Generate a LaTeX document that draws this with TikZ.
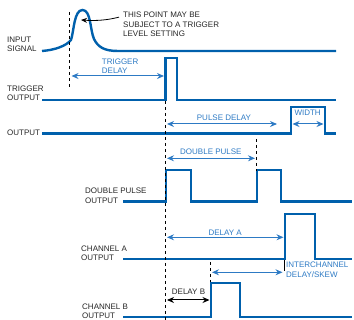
\documentclass[tikz,border=0pt]{standalone}
\usepackage{fontspec}
\setmainfont{Liberation Sans}
\usetikzlibrary{arrows.meta}
\definecolor{wavblue}{RGB}{0,96,172}
\definecolor{dimblue}{RGB}{45,122,196}
\tikzset{
  wave/.style={wavblue, line width=2.4pt},
  dim/.style={dimblue, line width=1pt, {Stealth[length=7pt,width=6pt]}-{Stealth[length=7pt,width=6pt]}},
  refline/.style={black, line width=0.8pt},
  lbl/.style={anchor=south west, inner sep=0pt, align=left, text=black!85,
    font=\fontsize{8}{9.4}\selectfont},
  bluelbl/.style={lbl, text=dimblue}
}
\begin{document}
\begin{tikzpicture}[x=1pt,y=-1pt]
  \useasboundingbox (0,0) rectangle (354,320);
  % signal names
  \node[lbl] (input) at (7,52) {INPUT\\SIGNAL};
  \node[lbl] (trig) at (7,101) {TRIGGER\\OUTPUT};
  \node[lbl] (out) at (7,135.5) {OUTPUT};
  \node[lbl] (dbl) at (85,203.3) {DOUBLE PULSE\\OUTPUT};
  \node[lbl] (cha) at (81,261) {CHANNEL A\\OUTPUT};
  \node[lbl] (chb) at (82,319) {CHANNEL B\\OUTPUT};
  % waveforms
  \draw[wave] (42,51) .. controls (55,50) and (66,46) .. (71,40)
    .. controls (74,31) and (74,10) .. (82.5,10)
    .. controls (91,10) and (90,30) .. (94,39)
    .. controls (98,47) and (104,51) .. (118,51) -- (336,51);
  \draw[wave] (42,100) -- (165.5,100) -- (165.5,58) -- (177,58) -- (177,100) -- (336,100);
  \draw[wave] (42,133.5) -- (291,133.5) -- (291,107) -- (325,107) -- (325,133.5) -- (336,133.5);
  \draw[wave] (123,201.5) -- (166,201.5) -- (166,170) -- (191,170) -- (191,201.5)
    -- (257,201.5) -- (257,170) -- (281,170) -- (281,201.5) -- (352,201.5);
  \draw[wave] (123,259.3) -- (285,259.3) -- (285,214) -- (315,214) -- (315,259.3) -- (352,259.3);
  \draw[wave] (123,317.3) -- (211,317.3) -- (211,283.3) -- (240,283.3) -- (240,317.3) -- (352,317.3);
  % reference marks
  \draw[refline, dashed] (69.5,12) -- (69.5,88);
  \draw[refline, dashed] (165.5,101) -- (165.5,320);
  \draw[refline, dashed] (256,139) -- (256,171);
  \draw[refline] (284.5,260) -- (284.5,271);
  \draw[refline, dashed] (210.5,262) -- (210.5,282);
  % note on the trigger point
  \node[lbl] (note) at (123,37) {THIS POINT MAY BE\\SUBJECT TO A TRIGGER\\LEVEL SETTING};
  \coordinate (peak) at (81,20);
  \draw[refline, -{Stealth[length=6pt,width=5pt]}] (note.north west) ++(-4,5)
    .. controls (108,20) and (97,21) .. (peak);
  % timing dimensions
  \node[bluelbl] (tdl) at (101.7,73.7) {TRIGGER\\DELAY};
  \coordinate (td1) at (71.5,76);
  \coordinate (td2) at (164,76);
  \draw[dim] (td1) -- (td2);
  \node[bluelbl] (pdl) at (196.7,121) {PULSE DELAY};
  \coordinate (pd1) at (167,124);
  \coordinate (pd2) at (277,124);
  \draw[dim] (pd1) -- (pd2);
  \node[bluelbl] (wid) at (294.3,116) {WIDTH};
  \coordinate (w1) at (292.5,124);
  \coordinate (w2) at (323.5,124);
  \draw[dim] (w1) -- (w2);
  \node[bluelbl] (dpl) at (180,155) {DOUBLE PULSE};
  \coordinate (dp1) at (167,158.3);
  \coordinate (dp2) at (255,158.3);
  \draw[dim] (dp1) -- (dp2);
  \node[bluelbl] (dla) at (208.3,235.7) {DELAY A};
  \coordinate (da1) at (167,237.3);
  \coordinate (da2) at (283.5,237.3);
  \draw[dim] (da1) -- (da2);
  \node[bluelbl] (ics) at (286,277.3) {INTERCHANNEL\\DELAY/SKEW};
  \coordinate (ic1) at (212,272.3);
  \coordinate (ic2) at (282.5,272.3);
  \draw[dim] (ic1) -- (ic2);
  \node[lbl] (dlb) at (171.7,294.3) {DELAY B};
  \coordinate (db1) at (167,300);
  \coordinate (db2) at (209.5,300);
  \draw[dim, black] (db1) -- (db2);
\end{tikzpicture}
\end{document}
